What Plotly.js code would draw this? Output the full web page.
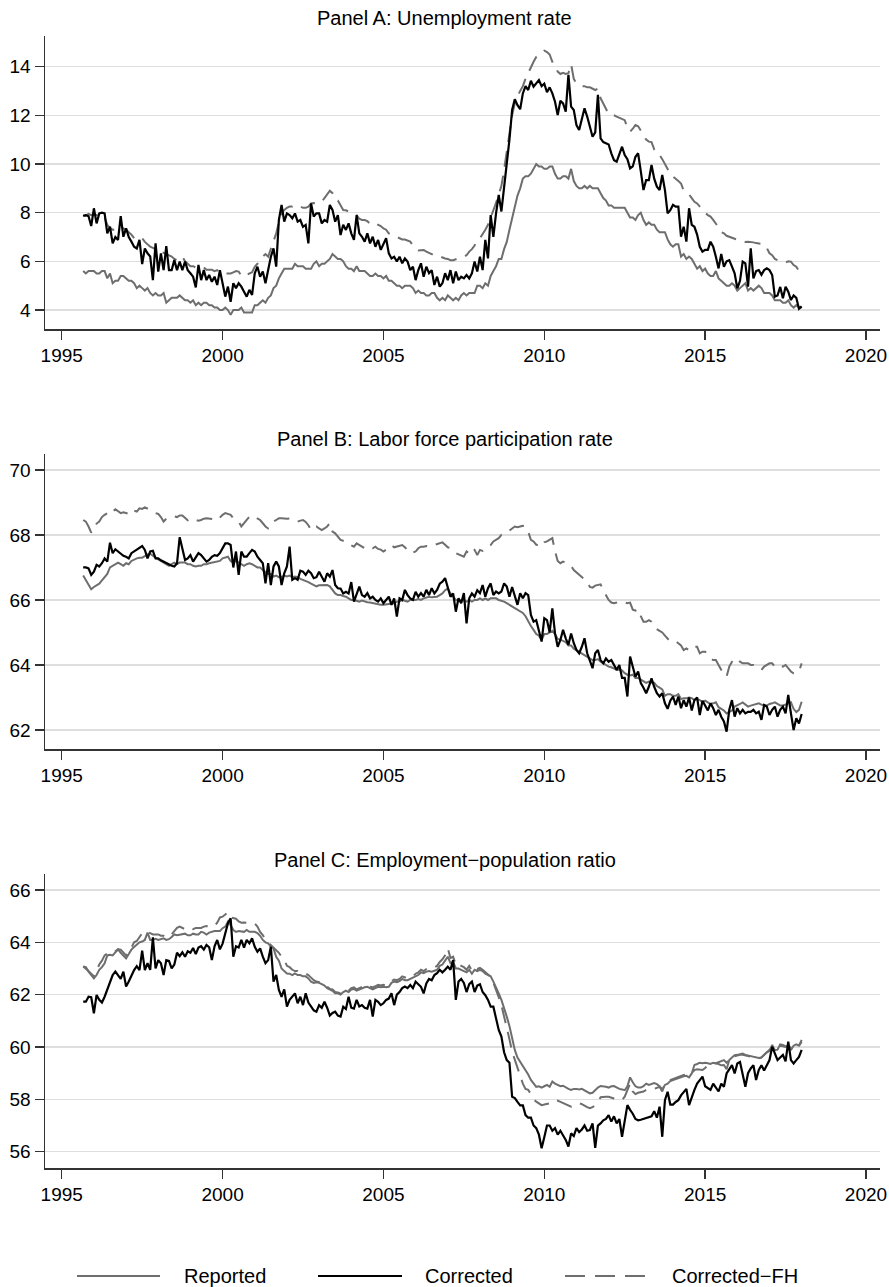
<!DOCTYPE html>
<html>
<head>
<meta charset="utf-8">
<script src="https://cdn.plot.ly/plotly-3.0.1.min.js"></script>
<style>
html,body{margin:0;padding:0;background:#fff;}
#chart{width:889px;height:1287px;}
</style>
</head>
<body>
<div id="chart"></div>
<script>
// ---------------- DATA (monthly, Sep 1995 - Jan 2018) ----------------
const firstYear = 1995, firstMonth = 9, nMonths = 269;
const seriesNames = ["Reported", "Corrected", "Corrected\u2212FH"];
const panelTitles = ["Panel A: Unemployment rate", "Panel B: Labor force participation rate", "Panel C: Employment\u2212population ratio"];
const xTickVals = [1995, 2000, 2005, 2010, 2015, 2020];
const yTickValsA = [4, 6, 8, 10, 12, 14];
const yTickValsB = [62, 64, 66, 68, 70];
const yTickValsC = [56, 58, 60, 62, 64, 66];

// Panel A: unemployment rate
const urReported = [
5.6,5.5,5.6,5.6,
5.6,5.5,5.5,5.6,5.6,5.3,5.5,5.1,5.2,5.2,5.4,5.4,
5.3,5.2,5.2,5.1,4.9,5.0,4.9,4.8,4.9,4.7,4.6,4.7,
4.6,4.6,4.7,4.3,4.4,4.5,4.5,4.5,4.6,4.5,4.4,4.4,
4.3,4.4,4.2,4.3,4.2,4.3,4.3,4.2,4.2,4.1,4.1,4.0,
4.0,4.1,4.0,3.8,4.0,4.0,4.0,4.1,3.9,3.9,3.9,3.9,
4.2,4.2,4.3,4.4,4.3,4.5,4.6,4.9,5.0,5.3,5.5,5.7,
5.7,5.7,5.7,5.9,5.8,5.8,5.8,5.7,5.7,5.7,5.9,6.0,
5.8,5.9,5.9,6.0,6.1,6.3,6.2,6.1,6.1,6.0,5.8,5.7,
5.7,5.6,5.8,5.6,5.6,5.6,5.5,5.4,5.4,5.5,5.4,5.4,
5.3,5.4,5.2,5.2,5.1,5.0,5.0,4.9,5.0,5.0,5.0,4.9,
4.7,4.8,4.7,4.7,4.6,4.6,4.7,4.7,4.5,4.4,4.5,4.4,
4.6,4.5,4.4,4.5,4.4,4.6,4.7,4.6,4.7,4.7,4.7,5.0,
5.0,4.9,5.1,5.0,5.4,5.6,5.8,6.1,6.1,6.5,6.8,7.3,
7.8,8.3,8.7,9.0,9.4,9.5,9.5,9.6,9.8,10.0,9.9,9.9,
9.8,9.8,9.9,9.9,9.6,9.4,9.4,9.5,9.5,9.4,9.8,9.3,
9.1,9.0,9.0,9.1,9.0,9.1,9.0,9.0,9.0,8.8,8.6,8.5,
8.3,8.3,8.2,8.2,8.2,8.2,8.2,8.0,7.8,7.8,7.7,7.9,
8.0,7.7,7.5,7.6,7.5,7.5,7.3,7.2,7.2,7.2,6.9,6.7,
6.6,6.7,6.7,6.2,6.3,6.1,6.2,6.1,5.9,5.7,5.8,5.6,
5.7,5.5,5.4,5.4,5.6,5.3,5.2,5.1,5.0,5.0,5.1,5.0,
4.8,4.9,5.0,5.1,4.8,4.9,4.8,4.9,5.0,4.9,4.7,4.7,
4.7,4.6,4.4,4.4,4.4,4.3,4.3,4.4,4.2,4.1,4.2,4.1,
4.1];
const urCorrected = [
7.86,7.9,7.85,7.45,
8.18,7.56,7.97,8.0,7.97,7.15,7.42,6.74,7.0,6.88,7.86,7.01,
7.36,7.0,6.81,6.6,6.53,6.88,5.89,6.53,6.33,6.2,5.23,6.74,
5.58,6.33,5.64,6.63,5.64,5.64,6.05,5.64,5.99,5.64,5.99,5.64,
5.51,5.37,4.93,5.85,5.23,5.64,5.23,5.44,5.16,5.37,5.03,5.64,
5.1,4.55,4.96,4.34,5.1,4.9,5.1,4.96,4.75,4.55,4.83,4.62,
5.51,5.78,5.37,5.58,5.1,5.64,6.19,6.53,5.78,7.7,8.32,7.63,
7.97,7.9,7.77,7.97,7.63,7.7,7.42,7.5,6.74,8.38,7.84,7.97,
7.97,7.56,7.7,7.63,8.32,8.11,7.63,7.9,7.08,7.5,7.29,7.56,
7.15,6.88,7.9,7.15,7.01,6.81,7.15,6.74,7.01,6.6,6.88,6.47,
6.74,6.95,6.33,6.12,6.19,5.99,6.19,5.92,6.12,5.99,5.64,5.78,
5.23,5.64,5.92,5.37,5.78,5.51,5.64,5.03,5.37,4.96,5.1,5.51,
5.23,5.64,5.1,5.58,5.23,5.37,5.3,5.44,5.3,5.51,5.99,5.58,
6.19,5.64,6.88,6.12,7.9,7.01,7.97,8.73,8.05,9.0,10.0,11.0,
12.22,12.66,12.42,12.25,12.9,13.2,13.04,13.42,13.18,13.3,13.45,13.2,
13.3,12.95,13.15,12.9,12.56,12.01,12.6,12.49,12.15,13.66,12.36,12.22,
11.6,11.4,11.88,12.29,11.95,11.53,11.12,11.3,12.84,11.05,10.9,10.85,
10.8,10.44,10.16,10.1,10.37,10.71,10.37,10.2,9.82,9.9,10.3,10.44,
9.7,8.93,9.34,9.34,9.96,9.4,9.07,8.93,9.55,8.93,7.97,8.1,
8.32,8.25,8.25,7.01,7.42,6.81,8.18,7.5,7.42,7.1,6.6,6.4,
6.47,6.47,6.81,6.6,6.19,5.71,6.3,5.78,6.0,6.05,5.78,5.51,
4.89,5.2,5.99,5.92,4.96,6.53,5.3,5.6,5.64,5.45,5.64,5.71,
5.64,5.44,4.55,4.6,4.95,4.48,4.96,4.75,4.41,4.6,4.5,4.05,
4.15];
const urCorrectedFH = [
7.9,7.88,7.95,7.9,
7.95,7.9,7.95,7.9,7.8,7.5,7.36,7.3,7.3,7.3,7.4,7.36,
7.3,7.2,7.1,6.95,6.95,6.9,6.95,6.8,6.7,6.6,6.55,6.5,
6.45,6.4,6.33,6.3,6.25,6.2,6.1,6.05,6.1,6.2,6.0,5.9,
5.8,5.8,5.75,5.8,5.78,5.75,5.65,5.64,5.65,5.6,5.64,5.55,
5.5,5.5,5.5,5.5,5.55,5.6,5.58,5.4,5.37,5.45,5.5,5.55,
5.78,5.9,6.0,6.2,6.3,6.19,6.5,6.9,7.15,7.6,8.0,8.11,
8.2,8.25,8.25,8.32,8.3,8.25,8.2,8.2,8.25,8.38,8.4,8.38,
8.4,8.45,8.6,8.75,8.9,8.8,8.55,8.5,8.3,8.11,8.1,8.05,
8.0,7.95,7.9,7.75,7.7,7.7,7.65,7.55,7.5,7.55,7.5,7.45,
7.35,7.3,7.15,7.1,7.05,7.0,6.95,6.9,6.9,6.85,6.81,6.65,
6.5,6.45,6.47,6.47,6.4,6.35,6.33,6.25,6.2,6.2,6.15,6.12,
6.1,6.05,6.05,6.1,6.12,6.15,6.19,6.25,6.4,6.5,6.65,6.88,
6.95,7.1,7.3,7.5,7.84,8.1,8.4,8.79,9.1,9.75,10.5,11.12,
12.0,12.5,12.8,13.0,13.2,13.5,13.75,14.0,14.2,14.4,14.5,14.6,
14.66,14.6,14.5,14.2,14.0,13.8,13.7,13.75,13.7,13.73,14.1,13.5,
13.3,13.25,13.2,13.2,13.15,13.15,13.1,13.04,13.1,12.7,12.49,12.3,
12.05,12.0,12.0,11.95,11.9,11.85,11.8,11.5,11.33,11.45,11.6,11.55,
11.4,11.2,11.0,10.92,10.9,10.6,10.4,10.37,10.2,10.0,9.75,9.6,
9.48,9.4,9.3,9.2,8.9,8.79,8.75,8.6,8.45,8.38,8.25,8.11,
8.0,7.9,7.84,7.7,7.56,7.4,7.2,7.15,7.05,7.01,6.95,6.9,
6.88,6.85,6.83,6.8,6.81,6.81,6.78,6.75,6.75,6.72,6.7,6.55,
6.33,6.25,6.1,6.05,6.0,5.99,5.95,6.0,5.99,5.85,5.78,5.6,
5.58];

// Panel B: labor force participation rate
const lfReported = [
66.75,66.6,66.45,66.33,
66.4,66.45,66.5,66.6,66.7,66.8,67.0,67.05,67.1,67.15,67.1,67.05,
67.13,67.1,67.2,67.25,67.28,67.3,67.3,67.35,67.4,67.42,67.35,67.3,
67.25,67.2,67.15,67.1,67.05,67.1,67.15,67.1,67.15,67.15,67.15,67.1,
67.1,67.05,67.03,67.05,67.05,67.1,67.1,67.13,67.15,67.15,67.18,67.2,
67.28,67.3,67.33,67.2,67.15,67.2,67.15,67.1,67.05,67.1,67.13,67.1,
67.05,67.0,67.0,66.92,66.85,66.8,66.8,66.72,66.75,66.7,66.7,66.75,
66.72,66.75,66.7,66.72,66.7,66.65,66.62,66.6,66.55,66.5,66.45,66.42,
66.45,66.46,66.45,66.46,66.42,66.31,66.2,66.15,66.15,66.12,66.1,66.05,
66.0,66.0,65.98,65.95,65.98,65.95,65.93,65.92,65.9,65.88,65.85,65.85,
65.85,65.86,65.88,65.9,65.9,65.95,65.95,66.0,65.98,65.95,66.0,66.0,
66.0,66.03,66.0,66.05,66.08,66.1,66.08,66.1,66.1,66.15,66.2,66.3,
66.35,66.2,66.1,66.0,66.0,66.0,65.98,65.95,66.0,65.95,66.0,66.0,
66.05,66.0,66.05,66.0,66.05,66.05,66.05,66.0,65.98,65.95,65.9,65.85,
65.8,65.75,65.7,65.65,65.6,65.5,65.33,65.2,65.08,64.95,64.9,64.77,
64.95,64.95,65.0,65.05,64.95,64.8,64.78,64.75,64.7,64.6,64.6,64.5,
64.45,64.4,64.35,64.3,64.26,64.2,64.15,64.15,64.18,64.1,64.05,64.0,
63.95,63.93,63.9,63.85,63.85,63.83,63.75,63.7,63.68,63.7,63.6,63.6,
63.55,63.5,63.45,63.49,63.45,63.45,63.35,63.3,63.25,63.05,63.1,63.1,
63.05,63.05,63.1,62.95,62.98,62.98,63.0,62.98,62.92,62.95,62.92,62.85,
62.9,62.85,62.8,62.82,62.85,62.7,62.65,62.6,62.51,62.55,62.6,62.72,
62.75,62.8,62.85,62.78,62.72,62.75,62.78,62.8,62.82,62.78,62.75,62.75,
62.8,62.82,62.85,62.8,62.75,62.75,62.78,62.8,62.85,62.65,62.55,62.62,
62.87];
const lfCorrected = [
67.0,67.0,66.97,66.77,
66.87,67.08,67.03,67.13,67.28,67.18,67.76,67.44,67.56,67.49,67.4,67.36,
67.33,67.28,67.44,67.49,67.54,67.6,67.66,67.54,67.28,67.49,67.51,67.28,
67.28,67.22,67.18,67.13,67.08,67.05,67.03,67.13,67.93,67.54,67.23,67.28,
67.38,67.18,67.33,67.44,67.38,67.28,67.18,67.23,67.33,67.38,67.36,67.44,
67.6,67.74,67.74,67.69,67.0,67.49,66.77,67.49,67.33,67.33,67.44,67.54,
67.49,67.33,67.23,67.13,66.51,67.13,66.46,67.03,67.18,67.03,66.46,66.82,
67.03,67.64,66.62,66.67,66.62,66.9,66.87,66.77,66.9,66.82,66.67,66.7,
66.87,66.72,66.56,66.82,66.72,66.92,66.46,66.36,66.35,66.2,66.25,66.2,
66.55,65.95,66.21,66.41,66.15,66.1,66.21,66.05,66.1,66.0,65.95,66.05,
65.9,66.0,66.1,65.85,66.05,65.49,66.05,66.0,66.31,66.15,66.05,66.0,
66.25,66.1,66.21,66.1,66.31,66.15,66.36,66.2,66.31,66.5,66.56,66.67,
66.36,66.1,66.2,65.64,66.05,65.9,66.21,65.28,66.05,66.2,66.1,66.3,
66.21,66.46,66.1,66.36,66.51,66.15,66.26,66.2,66.26,66.51,66.41,66.1,
66.4,66.1,65.85,66.21,66.05,66.21,66.15,65.54,65.33,65.38,65.08,64.72,
65.44,65.38,65.0,65.74,64.97,64.56,64.77,65.08,64.82,64.62,64.97,64.67,
64.46,64.36,64.56,64.82,64.36,64.15,63.9,64.36,64.46,64.15,64.05,64.2,
64.1,64.15,64.0,63.85,64.0,63.6,63.6,63.03,64.26,63.95,63.64,63.8,
63.44,63.3,63.13,63.33,63.59,63.33,63.13,63.03,63.13,62.82,62.65,62.9,
63.03,62.77,63.03,62.67,62.92,62.72,63.0,62.6,62.92,63.0,62.46,62.9,
62.77,62.6,62.82,62.67,62.46,62.62,62.41,62.26,61.95,62.62,62.92,62.41,
62.67,62.51,62.62,62.51,62.56,62.56,62.62,62.51,62.56,62.31,62.77,62.72,
62.46,62.62,62.72,62.41,62.62,62.72,62.51,63.08,62.51,62.0,62.36,62.2,
62.49];
const lfCorrectedFH = [
68.46,68.41,68.26,68.07,
68.2,68.35,68.41,68.55,68.62,68.67,68.77,68.72,68.79,68.72,68.67,68.7,
68.67,68.65,68.77,68.74,68.72,68.82,68.8,68.85,68.82,68.77,68.72,68.67,
68.65,68.55,68.41,68.5,68.52,68.55,68.57,68.55,68.6,68.6,68.51,68.45,
68.5,68.46,68.46,68.44,68.46,68.5,68.51,68.5,68.51,68.48,68.45,68.55,
68.62,68.67,68.64,68.62,68.51,68.46,68.41,68.26,68.36,68.45,68.56,68.6,
68.56,68.51,68.46,68.36,68.26,68.2,68.31,68.41,68.46,68.51,68.51,68.5,
68.5,68.51,68.48,68.46,68.41,68.44,68.46,68.4,68.3,68.15,68.2,68.26,
68.2,68.15,68.2,68.26,68.36,68.1,68.05,67.95,67.85,67.82,67.8,67.72,
67.69,67.64,67.74,67.7,67.64,67.59,67.64,67.6,67.59,67.64,67.57,67.55,
67.49,67.55,67.62,67.69,67.62,67.64,67.67,67.69,67.62,67.54,67.44,67.46,
67.49,67.59,67.64,67.64,67.66,67.64,67.67,67.69,67.72,67.74,67.77,67.7,
67.62,67.59,67.54,67.44,67.4,67.36,67.33,67.49,67.44,67.59,67.54,67.38,
67.54,67.51,67.6,67.64,67.69,67.8,67.85,67.9,68.0,68.02,68.07,68.15,
68.2,68.26,68.24,68.26,68.28,68.26,68.1,67.85,67.8,67.7,67.69,67.64,
67.77,67.8,67.85,67.9,67.5,67.2,67.13,67.18,67.15,67.1,67.05,66.92,
66.85,66.77,66.72,66.62,66.56,66.4,66.38,66.44,66.46,66.48,66.3,66.15,
66.0,65.92,65.9,65.92,65.95,65.95,65.92,65.9,65.92,65.7,65.67,65.72,
65.5,65.33,65.33,65.38,65.33,65.23,65.1,65.05,65.0,64.9,64.8,64.72,
64.72,64.72,64.67,64.6,64.46,64.51,64.45,64.46,64.56,64.56,64.36,64.41,
64.41,64.3,64.2,64.15,64.15,64.0,63.85,63.7,63.64,63.95,64.1,64.2,
64.2,64.1,64.05,64.05,64.05,64.0,64.0,63.95,63.9,63.85,63.95,64.0,
64.05,64.05,63.95,64.0,63.98,63.95,64.0,63.9,63.8,63.74,63.77,63.8,
64.05];

// Panel C: employment-population ratio
const epReported = [
63.08,63.05,62.88,62.75,
62.62,62.75,62.95,63.05,63.2,63.5,63.52,63.5,63.6,63.73,63.6,63.5,
63.39,63.55,63.72,63.82,63.9,64.0,64.03,64.09,64.37,64.09,64.1,64.13,
64.09,64.13,64.15,64.09,64.12,64.2,64.3,64.27,64.3,64.33,64.33,64.27,
64.27,64.33,64.3,64.3,64.4,64.37,64.3,64.37,64.4,64.43,64.43,64.43,
64.54,64.6,64.79,64.66,64.47,64.4,64.43,64.4,64.4,64.47,64.4,64.4,
64.4,64.35,64.25,64.09,64.0,63.96,63.83,63.77,63.45,63.3,63.0,62.9,
62.81,62.8,62.75,62.81,62.75,62.75,62.7,62.7,62.62,62.5,62.45,62.47,
62.45,62.4,62.35,62.25,62.2,62.15,62.05,62.05,62.0,62.1,62.15,62.1,
62.2,62.22,62.15,62.2,62.22,62.28,62.3,62.25,62.2,62.25,62.3,62.28,
62.3,62.28,62.3,62.45,62.5,62.48,62.52,62.6,62.55,62.55,62.6,62.62,
62.7,62.75,62.85,62.82,62.88,62.9,62.88,62.92,62.95,63.1,63.15,63.3,
63.45,63.2,63.25,63.0,63.0,62.95,62.9,62.85,62.95,62.8,62.95,62.9,
62.95,62.9,62.8,62.75,62.7,62.5,62.3,62.05,61.8,61.5,61.16,60.8,
60.3,59.89,59.6,59.45,59.25,59.1,58.95,58.74,58.6,58.48,58.5,58.45,
58.5,58.55,58.48,58.68,58.6,58.55,58.5,58.52,58.45,58.4,58.36,58.4,
58.4,58.38,58.4,58.35,58.3,58.23,58.25,58.35,58.45,58.51,58.5,58.48,
58.45,58.5,58.51,58.45,58.4,58.38,58.35,58.5,58.84,58.65,58.5,58.45,
58.45,58.5,58.6,58.55,58.58,58.62,58.58,58.5,58.38,58.55,58.6,58.7,
58.74,58.78,58.82,58.85,58.88,58.9,58.84,58.99,59.31,59.35,59.4,59.38,
59.4,59.38,59.35,59.4,59.38,59.35,59.3,59.31,59.15,59.5,59.6,59.69,
59.7,59.72,59.75,59.7,59.68,59.65,59.62,59.6,59.58,59.6,59.7,59.8,
59.85,60.08,59.88,59.9,60.1,60.08,60.02,60.0,59.9,60.05,60.1,60.05,
60.27];
const epCorrected = [
61.73,61.73,61.92,61.9,
61.29,61.99,61.8,61.7,61.92,62.18,62.5,62.75,62.88,62.75,62.6,62.88,
62.31,62.5,62.75,62.94,63.09,62.94,63.68,62.94,63.2,62.95,64.19,63.0,
63.32,63.2,62.75,63.32,63.29,63.0,63.15,63.6,63.47,63.62,63.45,63.66,
63.6,63.78,63.55,63.8,63.85,63.72,63.9,63.81,63.32,63.85,64.09,63.73,
63.95,64.34,64.73,64.92,63.45,63.85,63.8,64.09,63.8,64.09,63.96,64.15,
63.83,63.64,63.77,63.45,63.2,63.32,63.83,62.5,62.75,62.18,61.92,62.2,
61.54,61.8,61.92,62.05,61.67,61.92,61.6,62.05,61.7,61.54,61.4,61.35,
61.6,61.5,61.73,61.5,61.2,61.3,61.35,61.2,61.16,61.54,61.45,61.92,
61.5,61.47,61.8,61.55,61.6,61.5,61.47,61.8,61.16,61.8,61.73,61.6,
61.67,61.8,61.85,62.05,61.6,62.0,62.1,62.25,62.31,62.25,62.37,62.25,
62.5,62.4,62.3,62.05,62.43,62.6,62.55,62.75,62.82,62.95,62.85,62.95,
63.07,62.95,63.32,61.8,62.5,62.6,62.45,62.1,62.4,62.5,62.1,62.35,
62.4,62.1,61.98,61.8,61.54,61.54,61.1,60.65,60.4,59.8,59.5,59.4,
58.1,58.05,57.9,57.77,57.77,57.4,57.3,57.3,57.0,56.9,56.65,56.13,
56.55,57.0,57.0,56.8,56.9,56.65,56.8,56.65,56.45,56.2,56.7,56.6,
56.9,56.75,56.85,57.0,56.8,56.83,57.08,56.15,57.0,57.08,57.2,57.25,
57.4,57.15,57.35,57.08,57.25,56.57,57.2,57.78,57.6,57.45,57.25,57.2,
57.22,57.25,57.3,57.3,57.35,57.55,57.3,57.72,56.57,57.97,58.29,57.8,
57.8,57.9,57.97,58.15,58.3,58.4,57.78,58.1,58.36,58.6,58.75,58.87,
58.5,58.44,58.36,58.6,58.44,58.3,58.6,58.48,58.99,59.18,59.31,58.99,
59.37,59.43,58.99,58.48,59.0,59.18,59.3,58.74,59.12,59.3,59.1,59.3,
59.5,60.01,59.75,59.5,59.6,59.7,59.45,60.2,59.5,59.37,59.5,59.62,
59.89];
const epCorrectedFH = [
63.08,63.0,62.9,62.8,
62.7,62.9,63.15,63.3,63.5,63.58,63.6,63.58,63.65,63.73,63.72,63.6,
63.5,63.6,63.8,64.0,64.05,64.2,64.35,64.42,64.4,64.35,64.3,64.3,
64.3,64.25,64.25,64.2,64.2,64.3,64.45,64.55,64.6,64.55,64.5,64.55,
64.55,64.5,64.55,64.55,64.55,64.6,64.62,64.6,64.62,64.62,64.75,64.95,
64.98,65.05,65.15,64.95,64.92,64.9,64.8,64.75,64.76,64.75,64.73,64.73,
64.72,64.6,64.4,64.28,64.1,64.0,63.9,63.8,63.7,63.6,63.45,63.35,
63.1,63.05,62.95,62.9,62.9,62.85,62.85,62.8,62.75,62.65,62.55,62.5,
62.48,62.4,62.38,62.3,62.22,62.2,62.1,62.08,62.05,62.12,62.2,62.15,
62.25,62.28,62.2,62.25,62.3,62.35,62.38,62.3,62.28,62.32,62.38,62.35,
62.38,62.35,62.4,62.52,62.58,62.55,62.6,62.7,62.65,62.62,62.68,62.7,
62.8,62.85,62.95,62.9,62.98,63.02,63.0,63.05,63.1,63.25,63.35,63.5,
63.77,63.4,63.45,63.15,63.2,63.1,63.05,62.95,63.1,62.92,63.05,62.98,
63.02,62.95,62.85,62.78,62.68,62.45,62.2,61.9,61.6,61.2,60.8,60.3,
59.82,59.5,59.2,58.87,58.6,58.4,58.36,58.2,58.0,57.91,57.85,57.78,
57.8,57.82,57.85,57.9,57.97,57.95,57.9,57.85,57.82,57.78,57.72,57.75,
57.8,57.85,57.82,57.75,57.7,57.66,57.7,57.78,57.9,58.08,58.1,58.1,
58.1,58.05,58.03,58.0,57.97,57.97,58.1,58.35,58.6,58.3,58.2,58.25,
58.27,58.3,58.36,58.38,58.36,58.4,58.45,58.48,58.3,58.6,58.7,58.74,
58.78,58.82,58.87,58.9,58.93,58.95,58.93,59.0,59.12,59.15,59.13,59.12,
59.2,59.3,59.35,59.35,59.38,59.42,59.45,59.5,59.4,59.55,59.66,59.65,
59.68,59.7,59.7,59.68,59.65,59.62,59.6,59.58,59.57,59.6,59.7,59.8,
59.89,59.95,59.92,60.01,60.05,60.03,60.0,60.08,59.95,59.89,60.0,60.05,
60.2];

// ---------------- BUILD ----------------
const allSeries = {urReported, urCorrected, urCorrectedFH, lfReported, lfCorrected, lfCorrectedFH, epReported, epCorrected, epCorrectedFH};
for (const k in allSeries) {
  if (allSeries[k].length !== nMonths) throw new Error(k + " has " + allSeries[k].length + " values");
}
const months = [];
for (let k = 0; k < nMonths; k++) months.push(firstYear + (firstMonth - 1 + k) / 12);

const GRAY = '#6e6e6e', BLACK = '#000000';
const FONT = 'Liberation Sans, Arial, Helvetica, sans-serif';
const styles = [
  {color: GRAY, width: 2, dash: 'solid'},
  {color: BLACK, width: 2.2, dash: 'solid'},
  {color: GRAY, width: 2, dash: '16px,9px'}
];
const panels = [
  {data: [urReported, urCorrected, urCorrectedFH], xa: 'x', ya: 'y'},
  {data: [lfReported, lfCorrected, lfCorrectedFH], xa: 'x2', ya: 'y2'},
  {data: [epReported, epCorrected, epCorrectedFH], xa: 'x3', ya: 'y3'}
];
const drawOrder = [0, 2, 1];
const traces = [];
panels.forEach((p, pi) => {
  drawOrder.forEach(si => {
    const s = styles[si];
    traces.push({
      type: 'scatter', mode: 'lines', x: months, y: p.data[si],
      xaxis: p.xa, yaxis: p.ya, name: seriesNames[si], showlegend: false,
      line: {color: s.color, width: s.width, dash: s.dash},
      hoverinfo: 'skip'
    });
  });
});

const H = 1287, W = 889;
const py = v => 1 - v / H;
const px = v => v / W;
const xDomain = [45 / W, 880 / W];
const axisCommon = {
  showline: true, linecolor: '#333', linewidth: 1.5,
  ticks: 'outside', ticklen: 9, tickwidth: 1.5, tickcolor: '#333',
  tickfont: {family: FONT, size: 19, color: '#000'},
  zeroline: false, fixedrange: true
};
function xAxis(anchor) {
  return Object.assign({}, axisCommon, {
    domain: xDomain, anchor: anchor, range: [1994.48, 2020.435],
    tickmode: 'array', tickvals: xTickVals, ticktext: xTickVals.map(String), showgrid: false
  });
}
function yAxis(anchor, dom, range, tv) {
  return Object.assign({}, axisCommon, {
    domain: dom, anchor: anchor, range: range,
    tickmode: 'array', tickvals: tv, ticktext: tv.map(String),
    showgrid: true, gridcolor: '#dedede', gridwidth: 1.6
  });
}
const titleY = [18, 439, 860];

// Legend (key) drawn below the panels
const legendY = 1276;
const legendLines = [[77, 160], [318, 402], [565, 645]];
const legendTextX = [182, 423, 670];
const shapes = legendLines.map((seg, i) => ({
  type: 'line', xref: 'paper', yref: 'paper',
  x0: px(seg[0]), x1: px(seg[1]), y0: py(legendY), y1: py(legendY),
  line: {color: styles[i].color, width: 2.2, dash: i === 2 ? '20px,10px' : 'solid'}
}));
const annotations = panelTitles.map((t, i) => ({
  text: t, xref: 'paper', yref: 'paper', x: 0.5, y: py(titleY[i]),
  xanchor: 'center', yanchor: 'middle', showarrow: false,
  font: {family: FONT, size: 20, color: '#000'}
})).concat(seriesNames.map((n, i) => ({
  text: n, xref: 'paper', yref: 'paper', x: px(legendTextX[i]), y: py(legendY),
  xanchor: 'left', yanchor: 'middle', showarrow: false,
  font: {family: FONT, size: 20, color: '#000'}
})));

const layout = {
  width: W, height: H, autosize: false,
  margin: {l: 0, r: 0, t: 0, b: 0, pad: 0},
  paper_bgcolor: '#fff', plot_bgcolor: '#fff',
  font: {family: FONT, size: 19, color: '#000'},
  xaxis: xAxis('y'), xaxis2: xAxis('y2'), xaxis3: xAxis('y3'),
  yaxis: yAxis('x', [py(329), py(36)], [3.22, 15.26], yTickValsA),
  yaxis2: yAxis('x2', [py(749), py(454)], [61.415, 70.49], yTickValsB),
  yaxis3: yAxis('x3', [py(1168), py(874)], [55.377, 66.61], yTickValsC),
  annotations: annotations,
  shapes: shapes,
  showlegend: false
};
Plotly.newPlot('chart', traces, layout, {staticPlot: true, displayModeBar: false});
</script>
</body>
</html>
